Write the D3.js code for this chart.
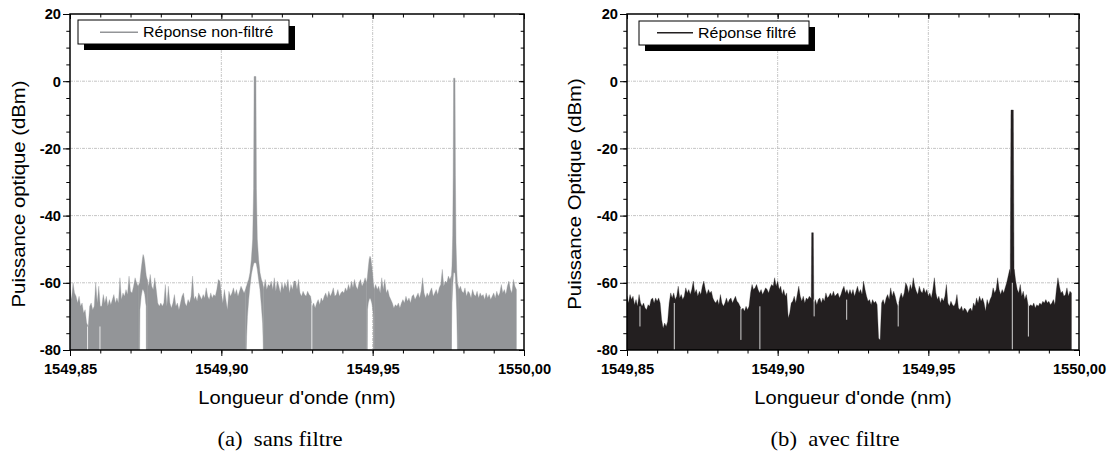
<!DOCTYPE html>
<html><head><meta charset="utf-8">
<script src="https://cdn.jsdelivr.net/npm/d3@7"></script>
<style>
body{margin:0;background:#fff;}
svg{display:block;}
</style></head><body>
<svg id="c" width="1107" height="452"></svg>
<script>
// ---------- data ----------
const osaStart = 1549.85, osaStep = 0.0005;   // OSA sampling grid (nm)
const xTicks = [1549.85, 1549.90, 1549.95, 1550.00];
const xTickLabels = ["1549,85", "1549,90", "1549,95", "1550,00"];
const yTicks = [20, 0, -20, -40, -60, -80];
const yTickLabels = ["20", "0", "-20", "-40", "-60", "-80"];

// (a) sans filtre : noise envelope (dBm), null where the trace leaves the floor
const upperA = [
-62,-65,-60,-63,-64,-66,-64,-67,-66,-69,
-68,-72,-73,-67,-66,-68,-67,-60,-66,-61,
-67,-67,-63.5,-66,-64,-67,-65,-66.5,-65,-63.5,
-66,-64.5,-66,-58.5,-65,-63,-64,-62,-63.5,-58,
-62.5,-63,-61,-58.5,-60,-61,null,null,null,null,
null,-59,-61,-57.5,-61,-62,-58.5,-62,-66,-67,
-66,-67,-66,-60.5,-67,-61,-66,-67.5,-66,-63.5,
-67,-66,-68,-66,-64,-63,-66,-67,-65,-66,
-64,-58,-65,-64,-65.5,-63,-64,-65,-63.5,-64.5,
-61.5,-64,-65,-63,-64.5,-63.5,-64,-62,-59,-59.5,
-63,-66,-62,-65,-68,-62.5,-64,-63,-61.5,-63.5,
-62,-64,-62.5,-61,-62,-63,-62,null,null,null,
null,null,null,null,null,null,null,null,-62,-59,
-62,-60.5,-61,-59.5,-62,-58.5,-62.5,-59.5,-61,-63,
-60,-62,-60,-61.5,-59,-63,-60.5,-62,-59.5,-59.5,
-62,-59,-63,-64,-62.5,-63.5,-64,-62.5,-63.5,-64,
-67,-66,-67.5,-66,-65,-66.5,-64.5,-65.5,-64,-63,
-64.5,-62.5,-64,-63,-61.5,-64,-63.5,-62,-64,-63,
-62.5,-63,-61.5,-62.5,-60.5,-62,-59.5,-61.5,-59,-61,
-62,-60,-59,-61,-60,-58.5,-60,null,null,null,
null,-62,-60.5,-62,-61,-63,-58.5,-62,-59,-63,
-62,-64,-65,-66,-67.5,-66.5,-67,-66,-67.5,-66,
-65,-66,-64,-65.5,-64.5,-66,-64,-63.5,-65,-64,
-63,-64.5,-62.5,-58.5,-63,-64.5,-63,-64,-62.5,-61.5,
-64,-63,-62,-63.5,-61.5,-60.5,-56,-61,-59.5,-60,
-58,-59,-58,null,null,null,null,-62,-61,-62.5,
-63,-61.5,-64,-62.5,-63,-64.5,-62,-63.5,-64,-62.5,
-64.5,-63,-64,-63.5,-65,-63,-64.5,-63.5,-65,-64,
-63,-64.5,-62.5,-64,-63,-60.5,-63,-62,-63.5,-61,
-59.5,-62,-63,-59,-61,-62
];
// peaks / side modes of (a): [wavelength, lower dBm, upper dBm]
const bump1A = [
 [1549.8725,-80,-61],[1549.8730,-80,-60],[1549.8731,-68,-59.5],[1549.87352,-64,-56],
 [1549.87392,-62,-53],[1549.87415,-62,-51.6],[1549.87442,-62.5,-52.3],[1549.87471,-63.5,-54],
 [1549.87501,-66,-56.5],[1549.87518,-67,-57.8],[1549.87521,-80,-58],[1549.8755,-80,-59]
];
const peak1A = [
 [1549.9080,-80,-62],[1549.90825,-80,-61],[1549.90835,-76,-61],[1549.90862,-70,-60],
 [1549.90904,-65,-59],[1549.90947,-61,-57],[1549.90993,-57.5,-53],[1549.91036,-55.5,-47],
 [1549.91066,-54.5,-32],[1549.91083,-54,1.4],[1549.91142,-54,1.4],[1549.91159,-54.5,-32],
 [1549.91188,-56,-47],[1549.91231,-59,-53],[1549.91278,-62,-57],[1549.91324,-67,-59],
 [1549.91364,-72,-60],[1549.91383,-78,-61],[1549.91387,-80,-61],[1549.9140,-80,-62]
];
const bump2A = [
 [1549.9480,-80,-60],[1549.94823,-80,-58.5],[1549.94829,-68,-58],[1549.94855,-66,-55.5],
 [1549.94885,-65,-53],[1549.94912,-64.5,-52.1],[1549.94938,-65,-52.6],[1549.94971,-66,-55],
 [1549.95005,-68,-58],[1549.95021,-70,-60],[1549.95024,-80,-60],[1549.9505,-80,-62]
];
const peak2A = [
 [1549.9760,-80,-58],[1549.97605,-74,-57.5],[1549.97621,-66,-55],[1549.97644,-61,-46],
 [1549.97661,-58.5,-28],[1549.97674,-57,0.9],[1549.9772,-57,0.9],[1549.97734,-58.5,-28],
 [1549.97753,-62,-48],[1549.97777,-68,-56],[1549.97796,-77,-59.5],[1549.9780,-80,-60],
 [1549.9785,-80,-62]
];
// thin places where the trace did not reach the floor: [wavelength, bottom, top]
const dipsA = [[1549.8558,-80,-73],[1549.8599,-80,-73],[1549.9299,-80,-66]];

// (b) avec filtre
const upperB = [
-64,-66,-63.5,-65,-64,-66.5,-65,-67,-63.5,-66,
-67,-66,-67.5,-68,-66.5,-67,-65,-64.5,-66,-64.5,
-65.5,-64.5,-66,-71,-73.5,-72,-73,-71.5,-66,-63,
-64.5,-63,-65,-64,-61,-64.5,-63.5,-65,-64,-61.5,
-63,-62,-63.5,-62,-59.5,-63,-62,-64,-62.5,-63.5,
-61,-59.5,-62,-63.5,-62,-63,-62.5,-64.5,-65.5,-66,
-65,-66.5,-63.5,-66,-67,-66,-64.5,-66,-65,-64.5,
-66,-65,-64,-65.5,-66,-67,-68,-67.5,-68.5,-67,
-68,-67,-63,-60.5,-62,-61.5,-60.5,-62,-63,-62,
-63.5,-62.5,-61.5,-62,-63,-61.5,-60.5,-61,-58.5,-61,
-59.5,-62,-61,-63.5,-62,-64,-63,-70.5,-69,-66,
-65.5,-64,-66,-63.5,-61,-64,-65.5,-64,-66,-64.5,
-65,-64,-64.5,-65,-66,-65,-66.5,-65,-64.5,-66,
-64.5,-65.5,-63,-64.5,-64,-63,-64,-62.5,-64,-63.5,
-63,-64.5,-63.5,-62,-61,-63,-62,-63.5,-62,-63.5,
-62,-64,-62.5,-61,-63,-62,-63.5,-59.5,-62,-64,
-65.5,-65,-66.5,-65,-66,-65.5,-66.5,-76.5,-77,-66,
-65,-66.5,-64.5,-63.5,-65,-61.5,-64,-62.5,-64,-66,
-67,-64.5,-63,-64.5,-63,-60,-61,-63,-60.5,-62,
-58.5,-61,-62.5,-63.5,-61,-62.5,-63,-61.5,-63,-62,
-64,-63,-64.5,-62,-58.5,-63,-65,-64,-66,-64.5,
-65.5,-64,-60.5,-66,-67,-65.5,-66.5,-67,-66,-63.5,
-67.5,-68,-67,-68.5,-67.5,-68,-69,-68,-67.5,-68.5,
-66,-67,-64.5,-66,-64,-65.5,-64.5,-66,-68.5,-65,
-66.5,-65,-64,-61.5,-63,-62,-58.5,-62,-63.5,-62,
-63,-61.5,-60,-58,-56,-58.5,-57,-56,-59.5,-62,
-63,-60.5,-64,-62.5,-65,-63.5,-66,-67,-66.5,-67,
-66,-67.5,-66.5,-67,-66,-66.5,-65.5,-66,-65,-66,
-65.5,-66.5,-66,-65,-66.5,-62,-58.5,-61,-63,-62.5,
-64,-63.5,-61.5,-64,-62.5,-63
];
const peak1B = [[1549.91115,-70,-64],[1549.91129,-70,-45.1],[1549.91183,-70,-45.1],[1549.91197,-70,-64]];
const peak2B = [[1549.9772,-60,-55],[1549.97743,-60,-8.6],[1549.9782,-60,-8.6],[1549.97843,-60,-55]];
const dipsB = [
 [1549.8543,-73,-67],[1549.8657,-80,-66],[1549.8878,-77,-67.5],[1549.8941,-80,-67],
 [1549.9121,-70,-65],[1549.9229,-71,-65],[1549.9400,-73,-66],[1549.97787,-80,-60],[1549.9832,-76,-66]
];

// ---------- drawing ----------
const SANS = '"Liberation Sans", Arial, Helvetica, sans-serif';
const SERIF = '"Liberation Serif", "Times New Roman", serif';
const svg = d3.select("#c");

function stext(parent, x, y, str, o) {
  return parent.append("text")
    .attr("transform", `translate(${x},${y}) rotate(${o.rot || 0}) scale(${o.sx || 1},1)`)
    .attr("font-family", o.family || SANS)
    .attr("font-size", o.size)
    .attr("font-weight", o.weight || "normal")
    .attr("text-anchor", o.anchor || "middle")
    .attr("fill", "#000")
    .style("white-space", "pre")
    .text(str);
}

const panels = [
  { id: "a", x0: 70, x1: 524, upper: upperA, features: [bump1A, peak1A, bump2A, peak2A], dips: dipsA,
    color: "#939598", legend: "Réponse non-filtré", ytitle: "Puissance optique (dBm)",
    caption: "(a)\u00a0 sans filtre", yTitleX: 25, captionX: 280,
    box: [78, 20, 211, 24], line: [100, 138, 32.3], textX: 143, textY: 37 },
  { id: "b", x0: 627, x1: 1079, upper: upperB, features: [peak1B, peak2B], dips: dipsB,
    color: "#231f20", legend: "Réponse filtré", ytitle: "Puissance Optique (dBm)",
    caption: "(b)\u00a0 avec filtre", yTitleX: 580.5, captionX: 835,
    box: [639, 21, 170, 24], line: [657, 693, 32.8], textX: 698, textY: 38 }
];

const yTop = 14, yBot = 350;
const minorX = d3.range(0, 16).map(i => xTicks[0] + i * 0.01);
const minorY = d3.range(0, 21).map(i => yTicks[0] - i * 5);

panels.forEach(p => {
  const g = svg.append("g");
  const x = d3.scaleLinear().domain([xTicks[0], xTicks[xTicks.length - 1]]).range([p.x0, p.x1]);
  const y = d3.scaleLinear().domain([yTicks[yTicks.length - 1], yTicks[0]]).range([yBot, yTop]);

  svg.append("clipPath").attr("id", "clip" + p.id).append("rect")
    .attr("x", p.x0).attr("y", yTop).attr("width", p.x1 - p.x0).attr("height", yBot - yTop);

  // grid
  const grid = g.append("g").attr("stroke", "#bfbfbf").attr("stroke-width", 0.9).attr("stroke-dasharray", "3,1,1,1");
  grid.selectAll(".gx").data(xTicks.slice(1, -1)).join("line")
    .attr("x1", d => x(d)).attr("x2", d => x(d)).attr("y1", yTop).attr("y2", yBot);
  grid.selectAll(".gy").data(yTicks.slice(1, -1)).join("line")
    .attr("x1", p.x0).attr("x2", p.x1).attr("y1", d => y(d)).attr("y2", d => y(d));

  // trace
  const dg = g.append("g").attr("clip-path", `url(#clip${p.id})`);
  const pts = p.upper.map((v, i) => ({ w: osaStart + i * osaStep, v }));
  const area = d3.area().defined(d => d.v != null).x(d => x(d.w)).y0(y(-80)).y1(d => y(d.v));
  dg.append("path").datum(pts).attr("d", area).attr("fill", p.color)
    .attr("stroke", p.color).attr("stroke-width", 0.3);
  const farea = d3.area().x(d => x(d[0])).y0(d => y(d[1])).y1(d => y(d[2]));
  dg.selectAll(".feat").data(p.features).join("path").attr("d", farea)
    .attr("fill", p.color).attr("stroke", p.color).attr("stroke-width", 0.4);
  dg.selectAll(".dip").data(p.dips).join("line")
    .attr("x1", d => x(d[0])).attr("x2", d => x(d[0])).attr("y1", d => y(d[1])).attr("y2", d => y(d[2]))
    .attr("stroke", "#ffffff").attr("stroke-width", 0.8);

  // axes
  const ax = g.append("g").attr("stroke-width", 1);
  const noDomain = s => s.select(".domain").remove();
  ax.append("g").attr("transform", `translate(0,${yBot})`)
    .call(d3.axisBottom(x).tickValues(minorX).tickSize(3.5).tickFormat("")).call(noDomain);
  const bx = ax.append("g").attr("transform", `translate(0,${yBot})`)
    .call(d3.axisBottom(x).tickValues(xTicks).tickSize(6).tickFormat((d, i) => xTickLabels[i])).call(noDomain);
  ax.append("g").attr("transform", `translate(0,${yTop})`)
    .call(d3.axisBottom(x).tickValues(minorX).tickSize(3.5).tickFormat("")).call(noDomain);
  ax.append("g").attr("transform", `translate(0,${yTop})`)
    .call(d3.axisBottom(x).tickValues(xTicks).tickSize(5).tickFormat("")).call(noDomain);
  ax.append("g").attr("transform", `translate(${p.x0},0)`)
    .call(d3.axisLeft(y).tickValues(minorY).tickSize(3.7).tickFormat("")).call(noDomain);
  const ly = ax.append("g").attr("transform", `translate(${p.x0},0)`)
    .call(d3.axisLeft(y).tickValues(yTicks).tickSize(7).tickFormat((d, i) => yTickLabels[i])).call(noDomain);
  ax.append("g").attr("transform", `translate(${p.x1},0)`)
    .call(d3.axisLeft(y).tickValues(minorY).tickSize(3.3).tickFormat("")).call(noDomain);
  ax.append("g").attr("transform", `translate(${p.x1},0)`)
    .call(d3.axisLeft(y).tickValues(yTicks).tickSize(5).tickFormat("")).call(noDomain);
  ax.selectAll("line").attr("stroke", "#000");

  bx.selectAll("text").attr("y", null).attr("dy", null)
    .attr("transform", "translate(0,23.5) scale(1.05,1)")
    .attr("font-family", SANS).attr("font-size", 14).attr("font-weight", "bold").attr("fill", "#000");
  ly.selectAll("text").attr("x", null).attr("dy", null)
    .attr("transform", "translate(-9,4.9) scale(1.05,1)")
    .attr("font-family", SANS).attr("font-size", 14).attr("font-weight", "bold").attr("fill", "#000");

  // frame
  g.append("rect").attr("x", p.x0).attr("y", yTop).attr("width", p.x1 - p.x0).attr("height", yBot - yTop)
    .attr("fill", "none").attr("stroke", "#000").attr("stroke-width", 1.5);

  // titles
  stext(g, (p.x0 + p.x1) / 2, 404, "Longueur d'onde (nm)", { size: 17.5, sx: 1.15 });
  stext(g, p.yTitleX, 194, p.ytitle, { size: 19, sx: 1.07, rot: -90 });
  stext(g, p.captionX, 446, p.caption, { size: 21, sx: 1.08, family: SERIF });

  // legend
  const [bx0, by0, bw, bh] = p.box;
  g.append("rect").attr("x", bx0 + 6).attr("y", by0 + 6).attr("width", bw).attr("height", bh).attr("fill", "#000");
  g.append("rect").attr("x", bx0).attr("y", by0).attr("width", bw).attr("height", bh)
    .attr("fill", "#fff").attr("stroke", "#000").attr("stroke-width", 1);
  g.append("line").attr("x1", p.line[0]).attr("x2", p.line[1]).attr("y1", p.line[2]).attr("y2", p.line[2])
    .attr("stroke", p.color).attr("stroke-width", 1.5);
  stext(g, p.textX, p.textY, p.legend, { size: 14, sx: 1.14, anchor: "start" });
});
</script>
</body></html>
